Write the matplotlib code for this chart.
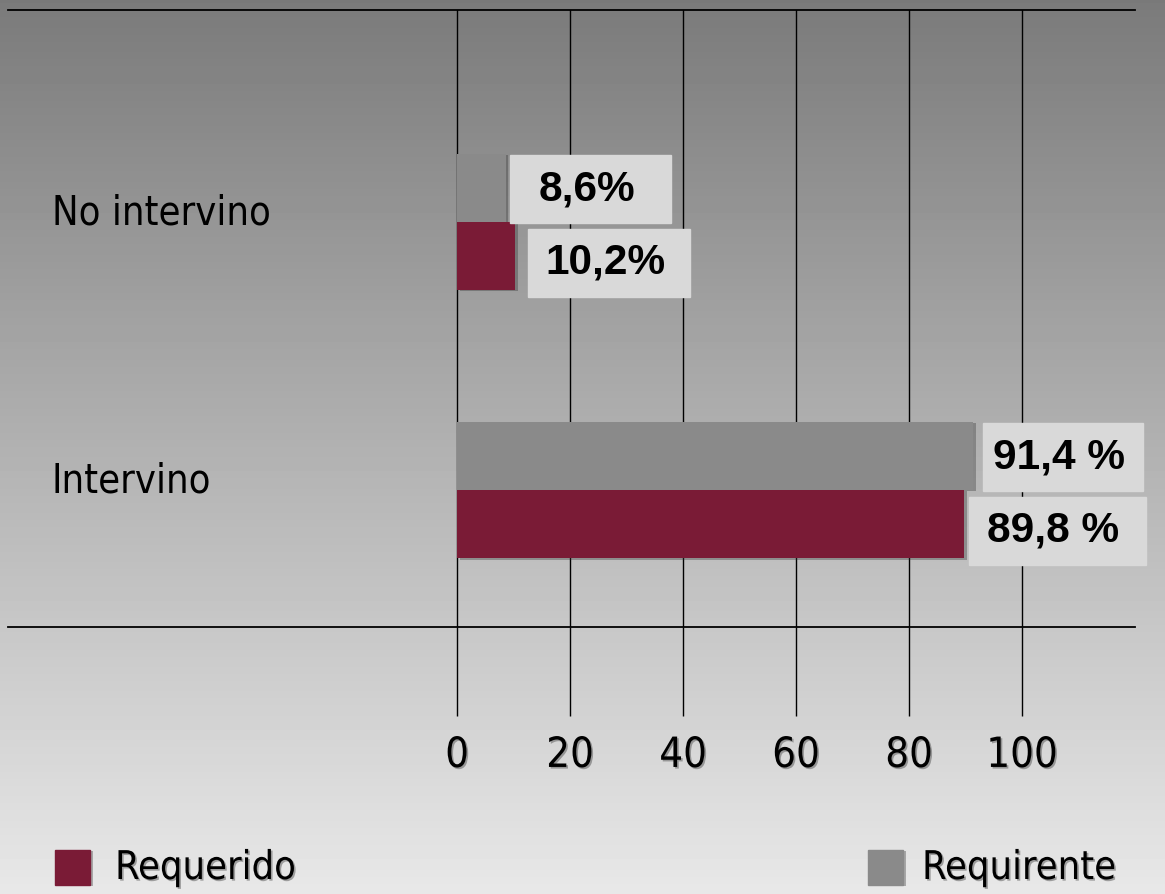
import numpy as np
import matplotlib
matplotlib.use("Agg")
import matplotlib.pyplot as plt
import matplotlib.patheffects as pe
from matplotlib.patches import Rectangle
from matplotlib.transforms import blended_transform_factory

# data
categories = ["Intervino", "No intervino"]
requerido = [89.8, 10.2]
requirente = [91.4, 8.6]
requerido_labels = ["89,8 %", "10,2%"]
requirente_labels = ["91,4 %", "8,6%"]
xticks = [0, 20, 40, 60, 80, 100]

maroon = "#7a1b36"
grey = "#8a8a8a"
box_col = "#d9d9d9"
cond = dict(family="DejaVu Sans", stretch="condensed")
shadow = [pe.withSimplePatchShadow(offset=(1.2, -1.2), shadow_rgbFace="#555555", alpha=0.5)]
bar_shadow = [pe.withSimplePatchShadow(offset=(2, -1), shadow_rgbFace="#333333", alpha=0.35)]

fig = plt.figure(figsize=(11.65, 8.94), dpi=100)

# background gradient (dark top -> light bottom)
bg = fig.add_axes([0, 0, 1, 1], zorder=-10)
grad = np.linspace(0.48, 0.91, 256).reshape(-1, 1)
bg.imshow(grad, cmap="gray", vmin=0, vmax=1, aspect="auto", extent=[0, 1, 0, 1])
bg.set_axis_off()

ax = fig.add_axes([8 / 1165, 1 - 627 / 894, 1127 / 1165, 617 / 894])
ax.set_facecolor("none")
ax.set_xlim(-79.5, 120)
ax.set_ylim(-0.511, 1.791)

h = 0.254
y = np.arange(len(categories))
b1 = ax.barh(y + h / 2, requirente, height=h, color=grey, zorder=3)
b2 = ax.barh(y - h / 2, requerido, height=h, color=maroon, zorder=3)
for b in list(b1) + list(b2):
    b.set_path_effects(bar_shadow)

# value boxes
def value_box(val, yc, text, width, gap, dy):
    x0 = val + gap
    ax.add_patch(Rectangle((x0, yc - h / 2 - dy), width, h, color=box_col, zorder=4, clip_on=False))
    ax.text(x0 + width / 2 - 0.7, yc - dy, text, ha="center", va="center", clip_on=False,
            fontsize=30.5, fontweight="bold", family="Liberation Sans", zorder=5)

for i in range(len(categories)):
    value_box(requirente[i], y[i] + h / 2, requirente_labels[i], 28.4, 1.7 if i == 0 else 0.8, 0.005)
    value_box(requerido[i], y[i] - h / 2, requerido_labels[i], 31.3 if i == 0 else 28.6,
              0.8 if i == 0 else 2.4, 0.025)

# category labels
tr = blended_transform_factory(ax.transAxes, ax.transData)
for yi, c in zip(y, categories):
    ax.text(0.039, yi + 0.03, c, transform=tr, ha="left", va="center", fontsize=28.5, **cond)

# grid / spines
ax.set_xticks(xticks)
ax.set_xticklabels([str(t) for t in xticks], fontsize=30, **cond)
for lab in ax.get_xticklabels():
    lab.set_path_effects(shadow)
ax.tick_params(axis="x", direction="out", length=64, width=1, color="black", pad=13)
ax.set_yticks([])
ax.grid(axis="x", color="black", lw=1, zorder=1)
ax.set_axisbelow(True)
for s in ["left", "right"]:
    ax.spines[s].set_visible(False)
for s in ["top", "bottom"]:
    ax.spines[s].set_color("black")
    ax.spines[s].set_linewidth(1.3)

# legend
for (lx, tx, col, name) in [(55, 115, maroon, "Requerido"), (868, 922, grey, "Requirente")]:
    fig.patches.append(Rectangle((lx / 1165, 1 - 885 / 894), 35 / 1165, 35 / 894,
                                 transform=fig.transFigure, color=col, zorder=5,
                                 path_effects=bar_shadow))
    t = fig.text(tx / 1165, 1 - 868 / 894, name, ha="left", va="center", fontsize=28.5, **cond)
    t.set_path_effects(shadow)

fig.savefig("out.png", dpi=100)
